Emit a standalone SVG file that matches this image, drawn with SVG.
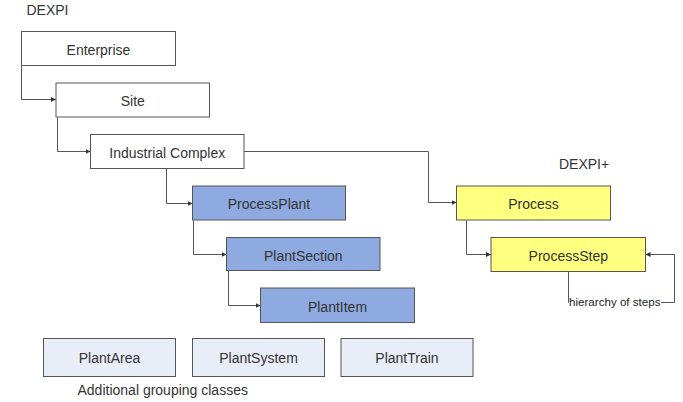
<svg xmlns="http://www.w3.org/2000/svg" width="683" height="402" viewBox="0 0 683 402">
  <defs>
    <marker id="arrow" markerWidth="6" markerHeight="6" refX="5" refY="3" orient="auto" markerUnits="userSpaceOnUse">
      <path d="M0,0.5 L5,3 L0,5.5 Z" fill="#333"/>
    </marker>
  </defs>
  <style>
    text { font-family: "Liberation Sans", Arial, sans-serif; font-size: 14px; fill: #333; }
    .lbl { text-anchor: middle; }
    .node { stroke: #555; stroke-width: 1; }
    .plain { fill: #ffffff; }
    .blue { fill: #8eaae0; }
    .yellow { fill: #ffff80; }
    .group { fill: #e9edf8; }
    .conn { fill: none; stroke: #555; stroke-width: 1; }
    .arr { marker-end: url(#arrow); }
    .small { font-size: 11.6px; fill: #222; }
  </style>
  <rect width="683" height="402" fill="#ffffff"/>

  <text x="26.5" y="15">DEXPI</text>
  <text x="559" y="169">DEXPI+</text>

  <!-- connectors -->
  <g id="connectors">
    <path class="conn arr" d="M21.5,65.5 V99.5 H56"/>
    <path class="conn arr" d="M57.5,117.5 V151.5 H90.5"/>
    <path class="conn arr" d="M166.5,168.5 V203.5 H192.5"/>
    <path class="conn arr" d="M193.5,220.5 V254.5 H226.5"/>
    <path class="conn arr" d="M228.5,271 V305.5 H260.5"/>
    <path class="conn arr" d="M244,151.5 H428.5 V202.5 H456.5"/>
    <path class="conn arr" d="M466.5,220.5 V254.5 H491"/>
    <path class="conn" d="M568.5,271.5 V302.5 H569"/>
    <path class="conn arr" d="M661,302.5 H674.5 V254.5 H645.5"/>
  </g>

  <g id="enterprise">
    <rect class="node plain" x="21.5" y="31.5" width="154" height="34"/>
    <text class="lbl" x="98.5" y="54.5">Enterprise</text>
  </g>
  <g id="site">
    <rect class="node plain" x="56" y="83" width="153.5" height="34"/>
    <text class="lbl" x="132.8" y="106">Site</text>
  </g>
  <g id="industrial-complex">
    <rect class="node plain" x="90.5" y="134.5" width="153.5" height="34"/>
    <text class="lbl" x="167.3" y="158">Industrial Complex</text>
  </g>
  <g id="process-plant">
    <rect class="node blue" x="192.5" y="186" width="153" height="34"/>
    <text class="lbl" x="269" y="209">ProcessPlant</text>
  </g>
  <g id="plant-section">
    <rect class="node blue" x="226.5" y="237.5" width="153.5" height="33"/>
    <text class="lbl" x="303.3" y="260.5">PlantSection</text>
  </g>
  <g id="plant-item">
    <rect class="node blue" x="260.5" y="288" width="154" height="34.5"/>
    <text class="lbl" x="337.5" y="311.5">PlantItem</text>
  </g>
  <g id="process">
    <rect class="node yellow" x="456.5" y="186" width="154" height="34"/>
    <text class="lbl" x="533.5" y="209">Process</text>
  </g>
  <g id="process-step">
    <rect class="node yellow" x="491" y="237.5" width="154.5" height="34"/>
    <text class="lbl" x="568.3" y="260.5">ProcessStep</text>
    <text class="small" x="569" y="306">hierarchy of steps</text>
  </g>

  <g id="plant-area">
    <rect class="node group" x="43.5" y="338.5" width="132" height="38"/>
    <text class="lbl" x="109.5" y="363">PlantArea</text>
  </g>
  <g id="plant-system">
    <rect class="node group" x="192.5" y="338.5" width="132" height="38"/>
    <text class="lbl" x="258.5" y="363">PlantSystem</text>
  </g>
  <g id="plant-train">
    <rect class="node group" x="341" y="338.5" width="132" height="38"/>
    <text class="lbl" x="407" y="363">PlantTrain</text>
  </g>
  <text x="77.5" y="395">Additional grouping classes</text>
</svg>
